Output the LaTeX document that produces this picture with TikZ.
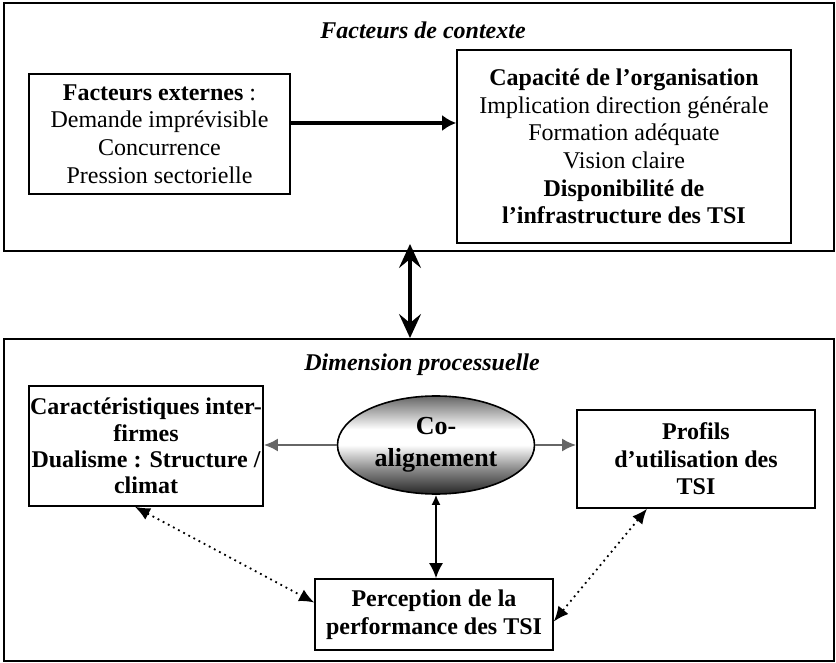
\documentclass[tikz,border=0pt]{standalone}
\usepackage{fontspec}
\setmainfont{Liberation Serif}
\usetikzlibrary{shapes.geometric,arrows.meta}

% light in the middle, grey at the top, dark at the bottom
\pgfdeclareverticalshading{coshade}{100bp}{%
  color(0bp)=(black!85); color(25bp)=(black!85); color(38bp)=(black!45);
  color(50bp)=(white); color(58bp)=(white); color(75bp)=(black!60); color(100bp)=(black!60)}

\begin{document}
\begin{tikzpicture}[x=0.5pt,y=-0.5pt,
  txt/.style={font=\fontsize{12}{13.8}\selectfont, align=center},
  frame/.style={draw, line width=1pt, inner sep=0pt},
  box/.style={draw, line width=0.8pt, inner sep=0pt, txt},
  ttl/.style={font=\fontsize{12}{13.8}\selectfont\bfseries\itshape},
  bigarrow/.style={line width=2.3pt, -{Latex[length=7pt,width=8pt]}},
  dblarrow/.style={line width=1.6pt, {Stealth[length=12pt,width=11pt,inset=4.5pt]}-{Stealth[length=12pt,width=11pt,inset=4.5pt]}},
  grayarrow/.style={line width=1.2pt, draw=black!60, -{Latex[length=7pt,width=6.5pt]}},
  linkarrow/.style={line width=0.9pt, {Latex[length=5pt,width=4.5pt]}-{Latex[length=7.5pt,width=7pt]}},
  dotarrow/.style={line width=0.9pt, dotted, {Latex[length=7.5pt,width=6.5pt]}-{Latex[length=7.5pt,width=6.5pt]}}
]
\useasboundingbox (0,0) rectangle (836,663);

% context layer
\node[frame, minimum width=415pt, minimum height=124pt] (ctx) at (419,127) {};
\node[ttl] (ctxtitle) at (423,30) {Facteurs de contexte};
\node[box, minimum width=130.5pt, minimum height=60pt] (ext) at (159.5,134)
  {\textbf{Facteurs externes} :\\ Demande imprévisible\\ Concurrence\\ Pression sectorielle};
\node[box, minimum width=167pt, minimum height=96.5pt] (cap) at (624,146.5)
  {\textbf{Capacité de l’organisation}\\ Implication direction générale\\ Formation adéquate\\ Vision claire\\ \textbf{Disponibilité de}\\ \textbf{l’infrastructure des TSI}};

% process layer
\node[frame, minimum width=415pt, minimum height=161pt] (proc) at (419,500) {};
\node[ttl] (proctitle) at (422,365) {Dimension processuelle};
\node[box, minimum width=117pt, minimum height=60pt, font=\fontsize{12}{13.2}\selectfont\bfseries] (car) at (146,446)
  {Caractéristiques inter-\\firmes\\Dualisme : Structure /\\climat};
\node[box, minimum width=119pt, minimum height=49pt, font=\fontsize{12}{13.8}\selectfont\bfseries] (prof) at (696,459)
  {Profils\\d’utilisation des\\TSI};
\node[box, minimum width=119pt, minimum height=35.5pt, font=\fontsize{12}{13.8}\selectfont\bfseries] (perc) at (434,614.5)
  {Perception de la\\performance des TSI};
\node[ellipse, draw, line width=0.8pt, inner sep=0pt, minimum width=98.5pt, minimum height=49pt,
  shading=coshade, font=\fontsize{13}{16}\selectfont\bfseries, align=center] (co) at (436,445)
  {Co-\\alignement};

\coordinate (vx) at (410,300);

% connectors
\draw[bigarrow] ([yshift=5.5pt]ext.east) -- ([yshift=5.5pt]ext.east -| cap.west);
\draw[dblarrow] ([yshift=4pt]ctx.south -| vx) -- (proc.north -| vx);
\draw[grayarrow] (co.west) -- (co.west -| car.east);
\draw[grayarrow] (co.east) -- (co.east -| prof.west);
\draw[linkarrow] (co.south) -- (perc.north -| co.south);
\draw[dotarrow] ([xshift=-5.5pt]car.south) -- ([yshift=6pt]perc.west);
\draw[dotarrow] ([xshift=-24.5pt]prof.south) -- ([yshift=-3.5pt]perc.east);
\end{tikzpicture}
\end{document}
